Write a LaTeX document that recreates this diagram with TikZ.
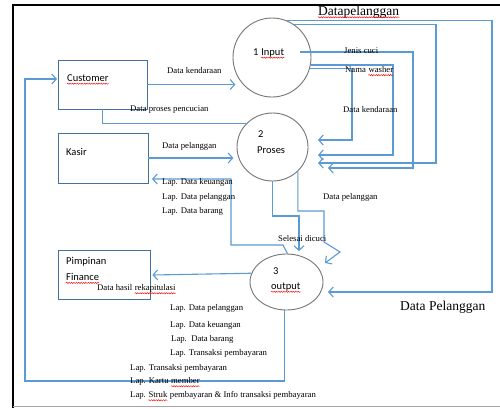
\documentclass[tikz,border=0pt]{standalone}
\usepackage{fontspec}
\setmainfont{Liberation Serif}
\newfontfamily\calib{Carlito}
\usetikzlibrary{arrows.meta,shapes.geometric,decorations.pathmorphing}
\definecolor{flowc}{HTML}{5B9BD5}
\definecolor{boxc}{HTML}{41719C}
\definecolor{circc}{HTML}{767676}
\tikzset{
  flow/.style={draw=flowc, line width=1.1pt},
  arr/.style={flow, -{Straight Barb[length=4.5pt,width=10pt]}},
  ent/.style={draw=boxc, line width=0.8pt, rectangle, inner sep=0pt},
  proc/.style={draw=circc, line width=0.9pt, ellipse, inner sep=0pt},
  lbl/.style={font=\fontsize{8.7}{9}\selectfont, anchor=west, inner sep=0pt},
  lblc/.style={font=\fontsize{8.7}{9}\selectfont, anchor=base west, inner sep=0pt},
  big/.style={font=\fontsize{13.5}{14}\selectfont, anchor=base west, inner sep=0pt},
  ntext/.style={font=\calib\fontsize{10.5}{12}\selectfont, anchor=west, inner sep=0pt},
  ntextc/.style={font=\calib\fontsize{10.5}{12}\selectfont, anchor=base west, inner sep=0pt},
  wave/.style={draw=red, line width=0.45pt, decorate, decoration={snake, amplitude=0.6pt, segment length=2.4pt}}
}
\newcommand\wavy[1]{\draw[wave] ([yshift=-2.3pt]#1.base west) -- ([yshift=-2.3pt]#1.base east);}
\begin{document}
\begin{tikzpicture}[x=1pt,y=-1pt]
\fill[white] (0,0) rectangle (500,408);
\useasboundingbox (0,0) rectangle (500,408);
% frame
\draw[line width=2.2pt, black] (13,408) -- (13,5) -- (500,5);
\draw[gray!70, line width=0.8pt] (13,406.5) -- (500,406.5);
% entities
\node[ent, minimum width=89pt, minimum height=49pt] (cust) at (102.5,84.5) {};
\node[ent, minimum width=90pt, minimum height=50pt] (kasir) at (103,158) {};
\node[ent, minimum width=92pt, minimum height=49pt] (pim) at (104,275) {};
% processes
\node[proc, minimum width=78pt, minimum height=79pt] (p1) at (272,57.5) {};
\node[proc, minimum width=71pt, minimum height=68pt] (p2) at (272.5,147) {};
\node[proc, minimum width=73pt, minimum height=56pt] (p3) at (286.5,282) {};
% texts in shapes
\node[ntext] (custT) at (67,78) {Customer}; \wavy{custT}
\node[ntext] (kasirT) at (66,152) {Kasir};
\node[ntext] (pimT1) at (66,262) {Pimpinan};
\node[ntext] (pimT2) at (66,277) {Finance}; \wavy{pimT2}
\node[ntext] (p1Ta) at (253,52) {1};
\node[ntextc] (p1Tb) at ([xshift=2.4pt]p1Ta.base east) {Input}; \wavy{p1Tb}
\node[ntext] (p2T1) at (258,134) {2};
\node[ntext] (p2T2) at (257,150) {Proses};
\node[ntext] (p3T1) at (273,271) {3};
\node[ntext] (p3T2) at (271,287) {output}; \wavy{p3T2}
% free-end coordinates
\coordinate (jc) at (300,52);
\coordinate (kIn) at (152,179);
\coordinate (cIn) at (57,79);
% connectors
\draw[arr] (cust.east) -- ++(88,0);
\draw[flow] (cust.south) |- (p2.139);
\draw[arr] (kasir.east) -- ++(85,0);
\draw[arr] ([xshift=1pt]p3.north) -- (283,245) -- (231,245) -- (231,179) -- (kIn);
\draw[arr] (p2.south) |- (299,216) -- (299,251);
\draw[arr] (p2.-44) |- (324,211) -- (324,242) -- (340,252) -- (325,263);
\draw[arr] (p1.69) -| (492,292) -- (328,292);
\draw[arr] (p1.56) -| (436,163) -- (318,163);
\draw[arr] (jc) -| (413,168) -- (328,168);
\draw[arr] (p1.-11) -| (393,155) -- (318,155);
\draw[arr] (p1.-16) -| (352,140) -- (318,140);
\draw[arr] ([xshift=-2pt]p3.south) |- (25,381) -- (25,79) -- (cIn);
\draw[arr] (p3.166) -- ([xshift=2pt]pim.east);
% labels
\node[big] (lDP1) at (318,15) {Datapelanggan}; \wavy{lDP1}
\node[big] (lDP2) at (400,310) {Data Pelanggan};
\node[lbl] (l1) at (167,71) {Data kendaraan};
\node[lbl] (l2) at (130,110) {Data proses pencucian};
\node[lbl] (l3) at (162,146) {Data pelanggan};
\node[lbl] (l4) at (162,182) {Lap. Data keuangan};
\node[lbl] (l5) at (162,197) {Lap. Data pelanggan};
\node[lbl] (l6) at (162,211) {Lap. Data barang};
\node[lbl] (l7) at (344,51) {Jenis cuci};
\node[lbl] (l8a) at (345,70) {Nama};
\node[lblc] (l8b) at ([xshift=2.2pt]l8a.base east) {washer}; \wavy{l8b}
\node[lbl] (l9) at (343,110) {Data kendaraan};
\node[lbl] (l10) at (323,197) {Data pelanggan};
\node[lbl] (l11) at (278,239) {Selesai dicuci};
\node[lbl] (l12a) at (97,288) {Data hasil};
\node[lblc] (l12b) at ([xshift=2.2pt]l12a.base east) {rekapitulasi}; \wavy{l12b}
\node[lbl] (l13) at (170,308) {Lap. Data pelanggan};
\node[lbl] (l14) at (170,325) {Lap. Data keuangan};
\node[lbl] (l15) at (171,339) {Lap.\ \ Data barang};
\node[lbl] (l16) at (170,353) {Lap. Transaksi pembayaran};
\node[lbl] (l17) at (130,368) {Lap. Transaksi pembayaran};
\node[lbl] (l18a) at (130,382) {Lap. Kartu};
\node[lblc] (l18b) at ([xshift=2.2pt]l18a.base east) {member}; \wavy{l18b}
\node[lbl] (l19a) at (130,396) {Lap.};
\node[lblc] (l19b) at ([xshift=2.2pt]l19a.base east) {Struk}; \wavy{l19b}
\node[lblc] (l19c) at ([xshift=2.2pt]l19b.base east) {pembayaran \& Info transaksi pembayaran};
\end{tikzpicture}
\end{document}
